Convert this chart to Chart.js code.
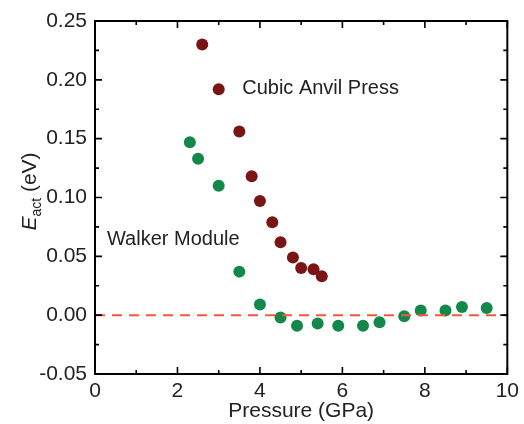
<!DOCTYPE html>
<html>
<head>
<meta charset="utf-8">
<script src="https://cdn.jsdelivr.net/npm/chart.js@4.4.0/dist/chart.umd.min.js"></script>
<style>
  html, body { margin: 0; padding: 0; background: #fff; }
  #wrap { width: 524px; height: 424px; }
</style>
</head>
<body>
<div id="wrap"><canvas id="chart" width="524" height="424"></canvas></div>
<script>
// data
const pressureCubic = [2.6, 3.0, 3.5, 3.8, 4.0, 4.3, 4.5, 4.8, 5.0, 5.3, 5.5];
const eactCubic     = [0.230, 0.192, 0.156, 0.118, 0.097, 0.079, 0.062, 0.049, 0.040, 0.039, 0.033];

const pressureWalker = [2.3, 2.5, 3.0, 3.5, 4.0, 4.5, 4.9, 5.4, 5.9, 6.5, 6.9, 7.5, 7.9, 8.5, 8.9, 9.5];
const eactWalker     = [0.147, 0.133, 0.110, 0.037, 0.009, -0.002, -0.009, -0.007, -0.009, -0.009, -0.006, -0.001, 0.004, 0.004, 0.007, 0.006];

const zeroLineX = [0, 10];
const zeroLineY = [0, 0];

const labels = [
    { text: 'Cubic Anvil Press', x: 3.57, y: 0.193 },
    { text: 'Walker Module', x: 0.29, y: 0.064 }
];

const FONT = '"Liberation Sans", Arial, sans-serif';
const TEXT = '#222';

function toPoints(xs, ys) {
    return xs.map((x, i) => ({ x: x, y: ys[i] }));
}

// frame, inward ticks on all four sides, annotations, y title
const framePlugin = {
    id: 'frame',
    afterDatasetsDraw(chart) {
        const ctx = chart.ctx;
        const a = chart.chartArea;
        const xs = chart.scales.x;
        const ys = chart.scales.y;
        ctx.save();
        ctx.strokeStyle = '#000';
        ctx.lineWidth = 2;
        ctx.strokeRect(a.left, a.top, a.right - a.left, a.bottom - a.top);

        ctx.lineWidth = 1.6;
        ctx.beginPath();
        for (let v = 0; v <= 10; v += 1) {
            const px = xs.getPixelForValue(v);
            const len = v % 2 === 0 ? 7 : 4;
            ctx.moveTo(px, a.bottom); ctx.lineTo(px, a.bottom - len);
            ctx.moveTo(px, a.top); ctx.lineTo(px, a.top + len);
        }
        for (let i = 0; i <= 12; i++) {
            const v = -0.05 + i * 0.025;
            const py = ys.getPixelForValue(v);
            const len = i % 2 === 0 ? 7 : 4;
            ctx.moveTo(a.left, py); ctx.lineTo(a.left + len, py);
            ctx.moveTo(a.right, py); ctx.lineTo(a.right - len, py);
        }
        ctx.stroke();

        // annotations
        ctx.fillStyle = TEXT;
        ctx.font = '20px ' + FONT;
        ctx.textAlign = 'left';
        ctx.textBaseline = 'middle';
        labels.forEach(l => {
            ctx.fillText(l.text, xs.getPixelForValue(l.x), ys.getPixelForValue(l.y));
        });

        // y axis title: E_act (eV)
        const cy = (a.top + a.bottom) / 2 - 6;
        ctx.translate(29, cy);
        ctx.rotate(-Math.PI / 2);
        const fMain = '21px ' + FONT;
        const fItal = 'italic 21px ' + FONT;
        const fSub = '14px ' + FONT;
        ctx.font = fItal; const wE = ctx.measureText('E').width;
        ctx.font = fSub; const wS = ctx.measureText('act').width;
        ctx.font = fMain; const wR = ctx.measureText(' (eV)').width;
        let x0 = -(wE + wS + wR) / 2;
        ctx.textBaseline = 'alphabetic';
        ctx.font = fItal; ctx.fillText('E', x0, 7); x0 += wE;
        ctx.font = fSub; ctx.fillText('act', x0, 12); x0 += wS;
        ctx.font = fMain; ctx.fillText(' (eV)', x0, 7);
        ctx.restore();
    }
};

new Chart(document.getElementById('chart').getContext('2d'), {
    type: 'scatter',
    data: {
        datasets: [
            {
                label: 'zero',
                type: 'line',
                data: toPoints(zeroLineX, zeroLineY),
                borderColor: '#ee5a3e',
                borderWidth: 2,
                borderDash: [10, 7],
                pointRadius: 0,
                fill: false
            },
            {
                label: 'Cubic Anvil Press',
                data: toPoints(pressureCubic, eactCubic),
                backgroundColor: '#7b1414',
                borderColor: '#7b1414',
                pointRadius: 6,
                pointBorderWidth: 0
            },
            {
                label: 'Walker Module',
                data: toPoints(pressureWalker, eactWalker),
                backgroundColor: '#14884a',
                borderColor: '#14884a',
                pointRadius: 6,
                pointBorderWidth: 0
            }
        ]
    },
    options: {
        responsive: false,
        animation: false,
        layout: { padding: { left: 0, right: 14, top: 21, bottom: 0 } },
        plugins: {
            legend: { display: false },
            tooltip: { enabled: false }
        },
        scales: {
            x: {
                type: 'linear',
                min: 0,
                max: 10,
                grid: { display: false, drawTicks: false },
                border: { display: false },
                ticks: {
                    stepSize: 2,
                    padding: 5,
                    color: TEXT,
                    font: { family: FONT, size: 21 },
                    maxRotation: 0
                },
                title: {
                    display: true,
                    text: 'Pressure (GPa)',
                    color: TEXT,
                    font: { family: FONT, size: 21 },
                    padding: { top: 0, bottom: 0 }
                },
                afterFit(scale) { scale.height = 50; }
            },
            y: {
                type: 'linear',
                min: -0.05,
                max: 0.25,
                grid: { display: false, drawTicks: false },
                border: { display: false },
                ticks: {
                    stepSize: 0.05,
                    padding: 8,
                    color: TEXT,
                    font: { family: FONT, size: 21 },
                    callback: v => (Math.abs(v) < 1e-9 ? 0 : v).toFixed(2)
                },
                afterFit(scale) { scale.width = 95; }
            }
        }
    },
    plugins: [framePlugin]
});
</script>
</body>
</html>
